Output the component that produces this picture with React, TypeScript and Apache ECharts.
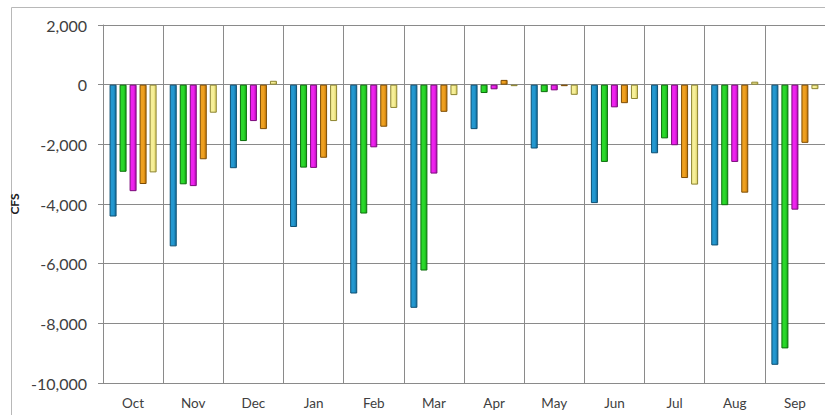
import React, { useEffect, useRef } from "react";
import * as echarts from "echarts";

// Months of the water year
const months = ["Oct", "Nov", "Dec", "Jan", "Feb", "Mar", "Apr", "May", "Jun", "Jul", "Aug", "Sep"];

// Flow change per month for each of the five cases (CFS)
const caseA = [-4420, -5420, -2800, -4770, -7000, -7480, -1490, -2140, -3970, -2300, -5390, -9390];
const caseB = [-2920, -3340, -1890, -2780, -4320, -6230, -280, -250, -2590, -1800, -4040, -8840];
const caseC = [-3570, -3400, -1220, -2790, -2100, -2980, -155, -190, -760, -2030, -2590, -4190];
const caseD = [-3330, -2500, -1490, -2450, -1410, -910, 160, -50, -620, -3130, -3620, -1950];
const caseE = [-2940, -940, 130, -1220, -780, -350, -50, -340, -480, -3350, 100, -150];

const seriesData = [caseA, caseB, caseC, caseD, caseE];

// Fill: light face, darker edge, outline
const palette = [
  { light: "#2398d0", dark: "#136f9e", border: "#0d4f72" },
  { light: "#2ad82a", dark: "#14a814", border: "#0c6e0c" },
  { light: "#ee22ee", dark: "#b40cb4", border: "#7a0a7a" },
  { light: "#eea020", dark: "#c07406", border: "#7d4c04" },
  { light: "#f6ef98", dark: "#d8cc60", border: "#8c8430" },
];

const yTicks = { min: -10000, max: 2000, interval: 2000 };

export default function App() {
  const ref = useRef<HTMLDivElement>(null);

  useEffect(() => {
    if (!ref.current) return;
    const chart = echarts.init(ref.current, null, { renderer: "svg" });
    const font = "Lato, 'Open Sans', sans-serif";
    chart.setOption({
      animation: false,
      backgroundColor: "#ffffff",
      graphic: [
        {
          type: "rect",
          shape: { x: 11.5, y: 7.5, width: 900, height: 500 },
          style: { fill: "none", stroke: "#b8b8b8", lineWidth: 1 },
          silent: true,
        },
      ],
      grid: { left: 103, right: -2, top: 25, bottom: 32, containLabel: false },
      xAxis: {
        type: "category",
        data: months,
        boundaryGap: true,
        axisLine: { show: false },
        axisTick: { show: false },
        splitLine: { show: true, lineStyle: { color: "#8a8a8a", width: 1 } },
        axisLabel: {
          color: "#404040",
          fontFamily: font,
          fontSize: 13.5,
          margin: 13,
        },
      },
      yAxis: {
        type: "value",
        min: yTicks.min,
        max: yTicks.max,
        interval: yTicks.interval,
        name: "CFS",
        nameLocation: "middle",
        nameRotate: 90,
        nameGap: 80,
        nameTextStyle: { color: "#202020", fontFamily: font, fontSize: 12, fontWeight: "bold" },
        axisLine: { show: true, lineStyle: { color: "#8a8a8a", width: 1 } },
        axisTick: { show: true, length: 5, inside: false, lineStyle: { color: "#8a8a8a" } },
        splitLine: { show: true, lineStyle: { color: "#8a8a8a", width: 1 } },
        axisLabel: {
          color: "#404040",
          fontFamily: font,
          fontSize: 16,
          margin: 16,
          formatter: (v: number) => v.toLocaleString("en-US"),
        },
      },
      series: seriesData.map((d, i) => ({
        type: "bar",
        data: d,
        barWidth: 7,
        barGap: "43%",
        itemStyle: {
          color: new echarts.graphic.LinearGradient(0, 0, 1, 0, [
            { offset: 0, color: palette[i].light },
            { offset: 0.55, color: palette[i].light },
            { offset: 1, color: palette[i].dark },
          ]),
          borderColor: palette[i].border,
          borderWidth: 1,
        },
      })),
    });
    return () => chart.dispose();
  }, []);

  return (
    <div
      ref={ref}
      style={{ position: "absolute", left: 0, top: 0, width: 825, height: 415 }}
    />
  );
}
